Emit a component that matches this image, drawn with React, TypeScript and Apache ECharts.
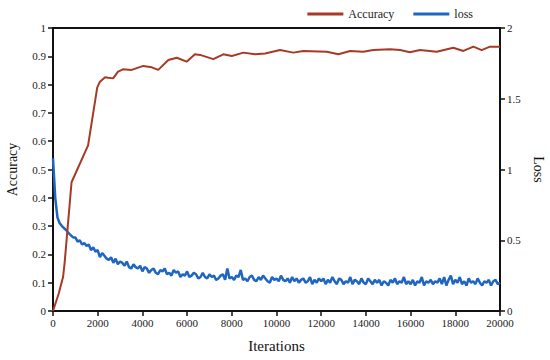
import React, { useEffect, useRef } from "react";
import * as echarts from "echarts";

const X_TICKS_MAX = 20000;

const ACC_ITERS = [
  0, 250, 450, 520, 830, 1570, 1980, 2100, 2330, 2470, 2690, 2910, 3130, 3520, 4040, 4420, 4710, 5160,
  5540, 5980, 6350, 6580, 7170, 7620, 8000, 8520, 9040, 9490, 10160, 10750, 11200, 12250, 12770, 13290,
  13880, 14330, 15080, 15530, 15970, 16420, 17170, 17910, 18360, 18810, 19180, 19550, 20000,
];
const ACC_VALUES = [
  0, 0.06, 0.12, 0.17, 0.455, 0.585, 0.79, 0.81, 0.826, 0.824, 0.822, 0.846, 0.854, 0.852, 0.866, 0.861,
  0.852, 0.887, 0.895, 0.881, 0.907, 0.905, 0.89, 0.907, 0.901, 0.913, 0.907, 0.91, 0.922, 0.913, 0.919,
  0.916, 0.907, 0.919, 0.916, 0.922, 0.925, 0.922, 0.914, 0.922, 0.916, 0.93, 0.919, 0.934, 0.922, 0.934,
  0.934,
];

const LOSS_STEP = 100;
const LOSS_VALUES = [
  1.08, 0.8, 0.66, 0.62, 0.6, 0.585, 0.57, 0.55, 0.535, 0.52,
  0.52, 0.49, 0.5, 0.47, 0.48, 0.46, 0.47, 0.43, 0.45, 0.42,
  0.43, 0.38, 0.41, 0.39, 0.37, 0.36, 0.38, 0.34, 0.37, 0.33,
  0.35, 0.34, 0.32, 0.35, 0.31, 0.3, 0.33, 0.31, 0.3, 0.32,
  0.28, 0.31, 0.3, 0.27, 0.29, 0.3, 0.27, 0.26, 0.29, 0.28,
  0.3, 0.26, 0.27, 0.25, 0.29, 0.27, 0.28, 0.24, 0.26, 0.25,
  0.28, 0.24, 0.25, 0.27, 0.26, 0.23, 0.24, 0.27, 0.24, 0.23,
  0.26, 0.24, 0.25, 0.22, 0.23, 0.25, 0.26, 0.22, 0.3, 0.23,
  0.24, 0.22, 0.25, 0.24, 0.29, 0.22, 0.23, 0.21, 0.24, 0.25,
  0.22, 0.21, 0.24, 0.22, 0.25, 0.23, 0.21, 0.2, 0.24, 0.22,
  0.23, 0.21, 0.25, 0.22, 0.21, 0.23, 0.2, 0.24, 0.21, 0.23,
  0.2, 0.22, 0.23, 0.2, 0.21, 0.24, 0.19, 0.22, 0.2, 0.23,
  0.21, 0.23, 0.19, 0.22, 0.2, 0.24, 0.21, 0.19, 0.23, 0.22,
  0.19, 0.21, 0.2, 0.24, 0.19, 0.22, 0.21, 0.19, 0.23, 0.2,
  0.19, 0.23, 0.21, 0.19, 0.22, 0.2, 0.22, 0.18, 0.21, 0.2,
  0.18, 0.22, 0.2, 0.23, 0.19, 0.21, 0.2, 0.24, 0.19, 0.21,
  0.19, 0.22, 0.18, 0.21, 0.2, 0.24, 0.18, 0.21, 0.2, 0.22,
  0.19, 0.21, 0.2, 0.23, 0.19, 0.24, 0.18, 0.22, 0.25, 0.19,
  0.22, 0.2, 0.24, 0.19, 0.21, 0.18, 0.23, 0.2, 0.21, 0.19,
  0.23, 0.2, 0.18, 0.21, 0.2, 0.22, 0.18, 0.21, 0.22, 0.19,
  0.2,
];

const FONT = "Liberation Serif";
const ACC_COLOR = "#A63A27";
const LOSS_COLOR = "#1F66C1";

function makeLabel(margin: number) {
  return {
    show: true,
    margin,
    fontFamily: FONT,
    fontSize: 11,
    color: "#222",
    formatter: (v: number) => "{t|" + String(v) + "}",
    rich: {
      t: { fontFamily: FONT, fontSize: 11, color: "#222" },
    },
  };
}

export default function App() {
  const ref = useRef<HTMLDivElement>(null);
  useEffect(() => {
    if (!ref.current) return;
    const chart = echarts.init(ref.current, null, { renderer: "svg" });
    const accData = ACC_ITERS.map((x, i) => [x, ACC_VALUES[i]]);
    const lossData = LOSS_VALUES.map((v, i) => [i * LOSS_STEP, v]);
    const axisLine = { show: true, lineStyle: { color: "#111", width: 2 } };
    const axisTick = { show: true, length: 5, lineStyle: { color: "#111", width: 1.5 } };
    chart.setOption({
      animation: false,
      backgroundColor: "#fff",
      textStyle: { fontFamily: FONT, color: "#222" },
      grid: {
        left: 53,
        right: 50,
        top: 28,
        bottom: 49,
        outerBoundsMode: "none",
        containLabel: false,
        show: true,
        borderColor: "#111",
        borderWidth: 2,
        backgroundColor: "transparent",
      },
      legend: {
        right: 72,
        top: 3,
        itemWidth: 36,
        itemHeight: 3,
        itemGap: 19,
        textStyle: { fontFamily: FONT, fontSize: 12, color: "#222" },
        data: [
          { name: "Accuracy", icon: "rect" },
          { name: "loss", icon: "rect" },
        ],
      },
      xAxis: {
        type: "value",
        min: 0,
        max: X_TICKS_MAX,
        interval: 2000,
        name: "Iterations",
        nameLocation: "middle",
        nameGap: 27,
        nameTextStyle: { fontFamily: FONT, fontSize: 15, color: "#111" },
        axisLine,
        axisTick,
        axisLabel: makeLabel(6),
        splitLine: { show: false },
      },
      yAxis: [
        {
          type: "value",
          min: 0,
          max: 1,
          interval: 0.1,
          name: "Accuracy",
          nameLocation: "middle",
          nameGap: 34,
          nameRotate: 90,
          nameTextStyle: { fontFamily: FONT, fontSize: 14, color: "#111" },
          axisLine,
          axisTick,
          axisLabel: makeLabel(7),
          splitLine: { show: false },
        },
        {
          type: "value",
          min: 0,
          max: 2,
          interval: 0.5,
          position: "right",
          name: "Loss",
          nameLocation: "middle",
          nameGap: 31,
          nameRotate: -90,
          nameTextStyle: { fontFamily: FONT, fontSize: 14, color: "#111" },
          axisLine,
          axisTick,
          axisLabel: makeLabel(7),
          splitLine: { show: false },
        },
      ],
      series: [
        {
          name: "loss",
          type: "line",
          yAxisIndex: 1,
          data: lossData,
          symbol: "none",
          showSymbol: false,
          itemStyle: { color: LOSS_COLOR },
          lineStyle: { color: LOSS_COLOR, width: 2.5 },
        },
        {
          name: "Accuracy",
          type: "line",
          yAxisIndex: 0,
          data: accData,
          symbol: "none",
          showSymbol: false,
          itemStyle: { color: ACC_COLOR },
          lineStyle: { color: ACC_COLOR, width: 2 },
        },
      ],
    });
    return () => chart.dispose();
  }, []);
  return (
    <div
      ref={ref}
      style={{ position: "absolute", left: 0, top: 0, width: 550, height: 360 }}
    />
  );
}
